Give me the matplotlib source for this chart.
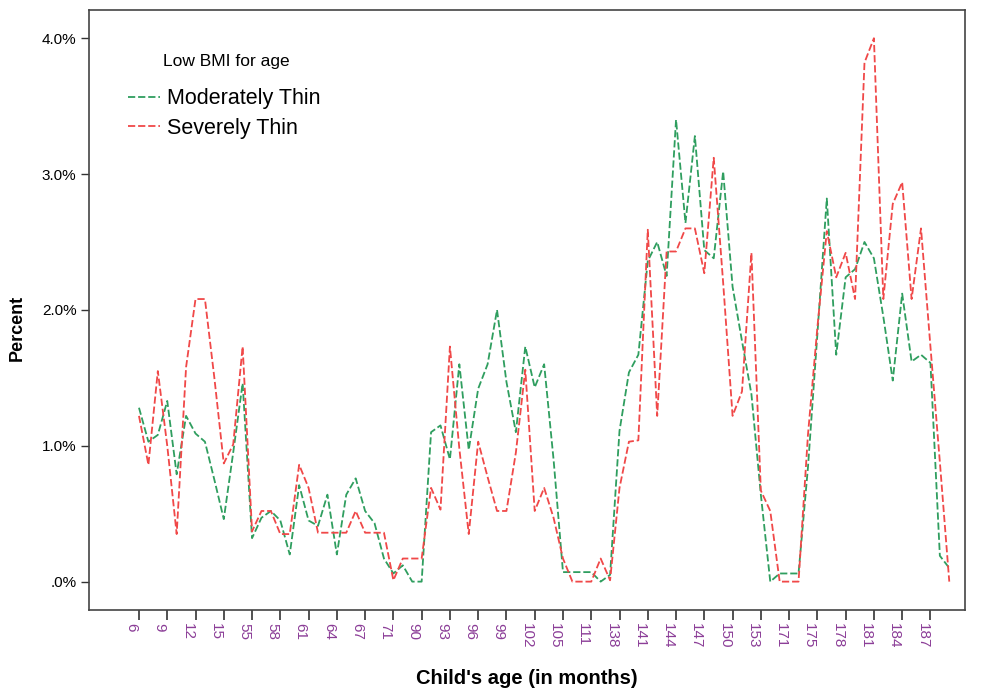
import matplotlib
matplotlib.use('Agg')
import matplotlib.pyplot as plt
from matplotlib.ticker import FixedLocator, FuncFormatter
from matplotlib.transforms import ScaledTranslation

plt.rcParams['font.family'] = ['Liberation Sans', 'DejaVu Sans']

# child's age categories (months); only every third one is labelled
ages = [6, 7, 8, 9, 10, 11, 12, 13, 14, 15, 16, 17,
        55, 56, 57, 58, 59, 60, 61, 62, 63, 64, 65, 66, 67, 68, 69,
        71, 72, 73, 90, 91, 92, 93, 94, 95, 96, 97, 98, 99, 100, 101, 102,
        103, 104, 105, 107, 109, 111, 120, 130,
        138, 139, 140, 141, 142, 143, 144, 145, 146, 147, 148, 149, 150,
        151, 152, 153, 160, 165, 171, 172, 173,
        175, 176, 177, 178, 179, 180, 181, 182, 183, 184, 185, 186, 187, 188, 189]

moderately_thin = [1.28, 1.03, 1.08, 1.33, 0.79, 1.22, 1.09, 1.03, 0.75, 0.46,
                   0.95, 1.46, 0.32, 0.47, 0.52, 0.45, 0.20, 0.71, 0.45, 0.41,
                   0.64, 0.20, 0.64, 0.76, 0.52, 0.43, 0.17, 0.06, 0.12, 0.00,
                   0.00, 1.10, 1.15, 0.90, 1.60, 0.97, 1.42, 1.60, 2.00, 1.47,
                   1.10, 1.73, 1.43, 1.60, 0.90, 0.07, 0.07, 0.07, 0.07, 0.00,
                   0.05, 1.11, 1.54, 1.67, 2.36, 2.50, 2.25, 3.40, 2.64, 3.28,
                   2.44, 2.38, 3.02, 2.17, 1.77, 1.38, 0.64, 0.00, 0.06, 0.06,
                   0.06, 0.84, 1.82, 2.82, 1.67, 2.24, 2.30, 2.50, 2.38, 1.95,
                   1.48, 2.12, 1.62, 1.67, 1.61, 0.19, 0.10]

severely_thin = [1.22, 0.86, 1.55, 1.00, 0.35, 1.58, 2.08, 2.08, 1.50, 0.87,
                 1.01, 1.73, 0.37, 0.52, 0.52, 0.35, 0.35, 0.86, 0.69, 0.36,
                 0.36, 0.36, 0.36, 0.52, 0.36, 0.36, 0.36, 0.01, 0.17, 0.17,
                 0.17, 0.69, 0.53, 1.73, 0.98, 0.35, 1.03, 0.77, 0.52, 0.52,
                 0.95, 1.56, 0.52, 0.69, 0.47, 0.17, 0.00, 0.00, 0.00, 0.17,
                 0.01, 0.69, 1.03, 1.04, 2.59, 1.22, 2.43, 2.43, 2.60, 2.60,
                 2.27, 3.12, 2.20, 1.22, 1.40, 2.42, 0.67, 0.52, 0.00, 0.00,
                 0.00, 1.08, 1.87, 2.58, 2.24, 2.42, 2.08, 3.82, 4.00, 2.08,
                 2.78, 2.94, 2.08, 2.60, 1.73, 0.88, 0.00]

green = '#2f9e5f'
red = '#f04848'
purple = '#8b3d97'

fig = plt.figure(figsize=(9.85, 6.91), dpi=100)
ax = fig.add_axes([0.0904, 0.117, 0.8896, 0.869])

x = list(range(len(ages)))
ax.plot(x, moderately_thin, color=green, lw=1.3, linestyle=(0, (4, 1.6)),
        label='Moderately Thin')
ax.plot(x, severely_thin, color=red, lw=1.3, linestyle=(0, (4, 1.6)),
        label='Severely Thin')

ax.set_xlim(-5.3, 87.7)
ax.set_ylim(-0.21, 4.21)

ticks = x[::3]
ax.xaxis.set_major_locator(FixedLocator(ticks))
ax.set_xticklabels([str(ages[i]) for i in ticks], rotation=-90,
                   color=purple, fontsize=11)
ax.set_yticks([0, 1, 2, 3, 4])
ax.yaxis.set_major_formatter(FuncFormatter(
    lambda v, p: '.0%' if v == 0 else f'{v:.1f}%'))
ax.tick_params(axis='x', length=7, width=1.2, color='#333333', pad=2)
ax.tick_params(axis='y', length=6, width=1.0, color='#333333', labelsize=11, pad=3)

# nudge the rotated age labels a little left of their ticks
shift = ScaledTranslation(-0.08, 0, fig.dpi_scale_trans)
for lab in ax.get_xticklabels():
    lab.set_transform(lab.get_transform() + shift)

for s in ax.spines.values():
    s.set_color('#444444')
    s.set_linewidth(1.2)

ax.set_xlabel("Child's age (in months)", fontsize=14.5, fontweight='bold', labelpad=15)
ax.set_ylabel('Percent', fontsize=13, fontweight='bold')
ax.yaxis.set_label_coords(-0.072, 0.47)

fig.text(0.2294, 0.9103, 'Low BMI for age', fontsize=12.5, ha='center', va='center')
ax.legend(loc='upper left', bbox_to_anchor=(0.13, 0.872),
          bbox_transform=fig.transFigure, frameon=False, fontsize=15.5,
          borderpad=0, borderaxespad=0, handlelength=1.5, handletextpad=0.3,
          labelspacing=0.39)

fig.savefig('out.png', dpi=100)
